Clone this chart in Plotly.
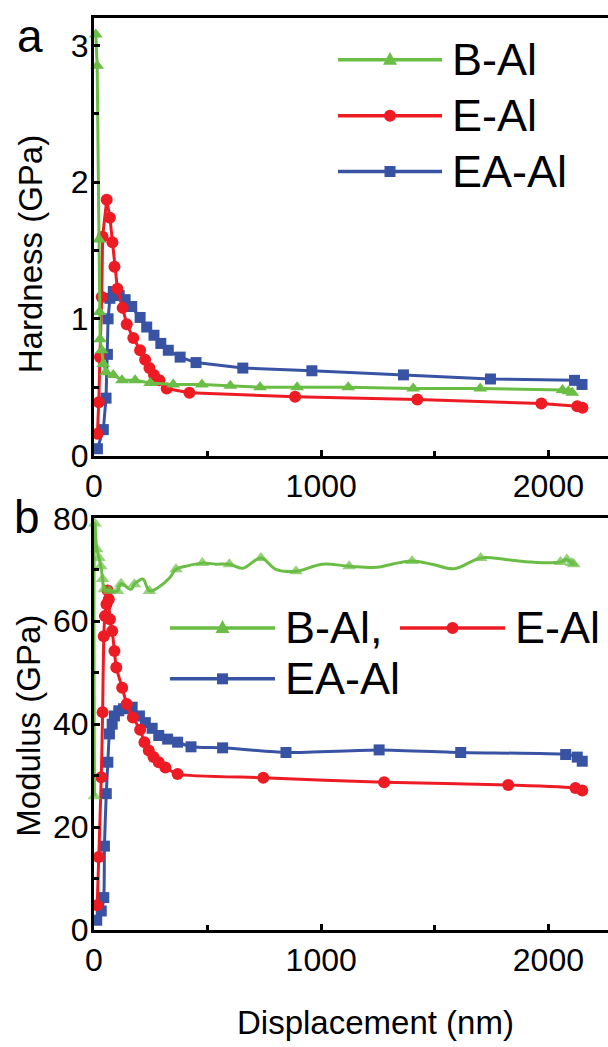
import plotly.graph_objects as go

# ---------------- data ----------------
# Hardness (panel a)
b_hard_x = [8, 14, 22, 24, 27, 34, 41, 53, 85, 123, 181, 247, 349, 475, 600, 731, 894, 1119, 1405, 1700, 2062, 2088, 2105]
b_hard_y = [3.08, 2.85, 1.58, 1.05, 0.85, 0.77, 0.67, 0.61, 0.59, 0.55, 0.55, 0.53, 0.52, 0.52, 0.51, 0.50, 0.50, 0.50, 0.49, 0.49, 0.48, 0.47, 0.46]

e_hard_x = [15, 21, 26, 34, 38, 56, 70, 81, 90, 103, 126, 144, 173, 203, 225, 244, 264, 288, 320, 420, 885, 1423, 1969, 2127, 2150]
e_hard_y = [0.16, 0.39, 0.72, 1.16, 1.60, 1.87, 1.74, 1.56, 1.38, 1.22, 1.08, 0.96, 0.86, 0.77, 0.70, 0.64, 0.59, 0.55, 0.49, 0.46, 0.43, 0.41, 0.38, 0.36, 0.35]

ea_hard_x = [15, 41, 53, 59, 62, 70, 85, 111, 137, 166, 203, 232, 264, 294, 327, 379, 449, 655, 959, 1362, 1745, 2115, 2148]
ea_hard_y = [0.05, 0.19, 0.42, 0.74, 1.00, 1.15, 1.20, 1.17, 1.14, 1.09, 1.01, 0.94, 0.88, 0.82, 0.77, 0.72, 0.68, 0.64, 0.62, 0.59, 0.56, 0.55, 0.52]

# Modulus (panel b)
b_mod_x = [2, 4, 12, 22, 30, 38, 45, 68, 103, 119, 163, 178, 215, 244, 290, 332, 361, 405, 477, 537, 596, 654, 735, 800, 889,
           1004, 1123, 1246, 1312, 1400, 1488, 1585, 1702, 1812, 1927, 2053, 2081, 2103, 2112]
b_mod_y = [26, 79, 74, 72.3, 70.7, 68.2, 66.2, 65.9, 65.9, 67.3, 66.2, 67.2, 68.2, 65.9, 66.8, 68.4, 70.1, 70.7, 71.3, 71.1, 71.1, 70.3, 72.3, 70.1, 69.7,
           71.1, 70.7, 70.5, 71.1, 71.7, 71.1, 70.2, 72.3, 72.0, 71.5, 71.5, 72.0, 71.3, 71.1]
# indices of B-Al modulus points that carry a visible triangle marker
b_mod_marked = [0, 1, 2, 3, 4, 5, 6, 7, 8, 9, 11, 13, 16, 18, 20, 22, 24, 26, 29, 32, 35, 36, 37, 38]

e_mod_x = [14, 21, 32, 38, 43, 48, 55, 60, 65, 70, 80, 90, 98, 124, 144, 171, 203, 222, 241, 262, 285, 314, 368, 745, 1277, 1823, 2119, 2149]
e_mod_y = [4.8, 14.2, 29.7, 42.3, 57.1, 61.0, 63.3, 66.0, 64.3, 60.4, 58.1, 54.2, 51.0, 47.1, 43.9, 41.3, 38.9, 36.5, 34.9, 33.6, 32.6, 31.6, 30.3, 29.6, 28.7, 28.2, 27.6, 27.1]

ea_mod_x = [12, 32, 43, 46, 54, 61, 68, 80, 90, 109, 130, 168, 200, 226, 256, 285, 324, 368, 427, 566, 845, 1255, 1614, 2076, 2127, 2149]
ea_mod_y = [1.9, 3.7, 6.3, 16.3, 26.5, 32.6, 38.1, 40.0, 41.6, 42.6, 43.0, 43.3, 41.6, 40.3, 39.2, 37.8, 37.1, 36.5, 35.6, 35.4, 34.5, 35.0, 34.5, 34.1, 33.6, 32.8]

series_names_a = ["B-Al", "E-Al", "EA-Al"]
series_names_b = ["B-Al,", "E-Al", "EA-Al"]
x_ticks = [0, 1000, 2000]
hard_ticks = [0, 1, 2, 3]
mod_ticks = [0, 20, 40, 60, 80]

# ---------------- styling ----------------
GREEN = "#6abd45"
RED = "#ed1c24"
BLUE = "#3953a4"
FONT = "Liberation Sans, Arial, sans-serif"

W, H = 608, 1047
L, R, T, B = 94, 0, 15, 117
PW = W - L - R
PH = H - T - B


def fx(px):
    return (px - L) / PW


def fy(py):
    return (H - B - py) / PH


fig = go.Figure()


def add_series(x, y, color, symbol, size, xa, ya, shape, smoothing=0.6):
    fig.add_trace(go.Scatter(
        x=x, y=y, mode="lines+markers", xaxis=xa, yaxis=ya,
        line=dict(color=color, width=3, shape=shape, smoothing=smoothing),
        marker=dict(color=color, symbol=symbol, size=size, line=dict(width=0)),
        cliponaxis=False, showlegend=False, hoverinfo="skip"))


# panel a (draw blue, red, green so green sits on top)
add_series(ea_hard_x, ea_hard_y, BLUE, "square", 11, "x", "y", "linear")
add_series(e_hard_x, e_hard_y, RED, "circle", 12, "x", "y", "linear")
add_series(b_hard_x, b_hard_y, GREEN, "triangle-up", 12, "x", "y", "linear")
# panel b
add_series(ea_mod_x, ea_mod_y, BLUE, "square", 11, "x2", "y2", "spline")
add_series(e_mod_x, e_mod_y, RED, "circle", 12, "x2", "y2", "spline")
green_sizes = [12 if i in b_mod_marked else 0 for i in range(len(b_mod_x))]
add_series(b_mod_x, b_mod_y, GREEN, "triangle-up", green_sizes, "x2", "y2", "spline", smoothing=1.0)

top_dom = [fy(454), 1.0]
bot_dom = [0.0, fy(517)]
XMAX = (W - L) / 0.2272

axis_common = dict(
    showline=True, linewidth=3, linecolor="black", ticks="inside", ticklen=6,
    tickwidth=2.5, tickcolor="black", showgrid=False, zeroline=False,
    tickfont=dict(family=FONT, size=32, color="black"),
)

fig.update_layout(
    width=W, height=H, margin=dict(l=L, r=R, t=T, b=B),
    paper_bgcolor="white", plot_bgcolor="white",
    font=dict(family=FONT, color="black"),
    xaxis=dict(axis_common, domain=[0, 1], anchor="y", range=[0, XMAX], tickvals=x_ticks,
               mirror=True, minor=dict(ticks="inside", dtick=500, ticklen=5, tickwidth=2.5, tickcolor="black")),
    yaxis=dict(axis_common, domain=top_dom, anchor="x", range=[0, 3.2], tickvals=hard_ticks,
               ticklabelstandoff=-4,
               minor=dict(ticks="inside", dtick=0.5, ticklen=5, tickwidth=2.5, tickcolor="black")),
    xaxis2=dict(axis_common, domain=[0, 1], anchor="y2", range=[0, XMAX], tickvals=x_ticks,
                mirror=True, minor=dict(ticks="inside", dtick=500, ticklen=5, tickwidth=2.5, tickcolor="black")),
    yaxis2=dict(axis_common, domain=bot_dom, anchor="x2", range=[0, 80], tickvals=mod_ticks,
                ticklabelstandoff=-4,
                minor=dict(ticks="inside", dtick=10, ticklen=5, tickwidth=2.5, tickcolor="black")),
)

ann = []
# axis titles
ann.append(dict(text="Hardness (GPa)", x=fx(30), y=fy(252), xref="paper", yref="paper", textangle=-90,
                showarrow=False, font=dict(family=FONT, size=33), xanchor="center", yanchor="middle"))
ann.append(dict(text="Modulus (GPa)", x=fx(29), y=fy(725), xref="paper", yref="paper", textangle=-90,
                showarrow=False, font=dict(family=FONT, size=33), xanchor="center", yanchor="middle"))
ann.append(dict(text="Displacement (nm)", x=fx(375), y=fy(1023), xref="paper", yref="paper",
                showarrow=False, font=dict(family=FONT, size=33), xanchor="center", yanchor="middle"))
# panel labels
ann.append(dict(text="a", x=fx(30), y=fy(33), xref="paper", yref="paper",
                showarrow=False, font=dict(family=FONT, size=46), xanchor="center", yanchor="middle"))
ann.append(dict(text="b", x=fx(27), y=fy(516), xref="paper", yref="paper",
                showarrow=False, font=dict(family=FONT, size=46), xanchor="center", yanchor="middle"))

shapes = []


def legend_item(name, color, symbol, x0, x1, y, tx):
    shapes.append(dict(type="line", xref="paper", yref="paper", x0=fx(x0), x1=fx(x1), y0=fy(y), y1=fy(y),
                       line=dict(color=color, width=3.5)))
    cx = (x0 + x1) / 2
    r = 6
    if symbol == "circle":
        shapes.append(dict(type="circle", xref="paper", yref="paper", x0=fx(cx - r), x1=fx(cx + r),
                           y0=fy(y + r), y1=fy(y - r), fillcolor=color, line=dict(width=0)))
    elif symbol == "square":
        shapes.append(dict(type="rect", xref="paper", yref="paper", x0=fx(cx - 5.5), x1=fx(cx + 5.5),
                           y0=fy(y + 5.5), y1=fy(y - 5.5), fillcolor=color, line=dict(width=0)))
    else:
        path = "M {} {} L {} {} L {} {} Z".format(fx(cx - 7), fy(y + 5), fx(cx + 7), fy(y + 5), fx(cx), fy(y - 8))
        shapes.append(dict(type="path", xref="paper", yref="paper", path=path, fillcolor=color, line=dict(width=0)))
    ann.append(dict(text=name, x=fx(tx), y=fy(y), xref="paper", yref="paper", showarrow=False,
                    font=dict(family=FONT, size=45), xanchor="left", yanchor="middle"))


colors = [GREEN, RED, BLUE]
symbols = ["triangle", "circle", "square"]
for i, (nm, c, s) in enumerate(zip(series_names_a, colors, symbols)):
    legend_item(nm, c, s, 338, 442, 57 + 56 * i, 450)

legend_item(series_names_b[0], GREEN, "triangle", 170, 275, 627, 283)
legend_item(series_names_b[1], RED, "circle", 400, 505, 627, 513)
legend_item(series_names_b[2], BLUE, "square", 170, 275, 678, 283)

fig.update_layout(annotations=ann, shapes=shapes)

fig.write_html("out.html", config={"displayModeBar": False},
               post_script="document.body.style.margin='0';document.body.style.overflow='hidden';")
